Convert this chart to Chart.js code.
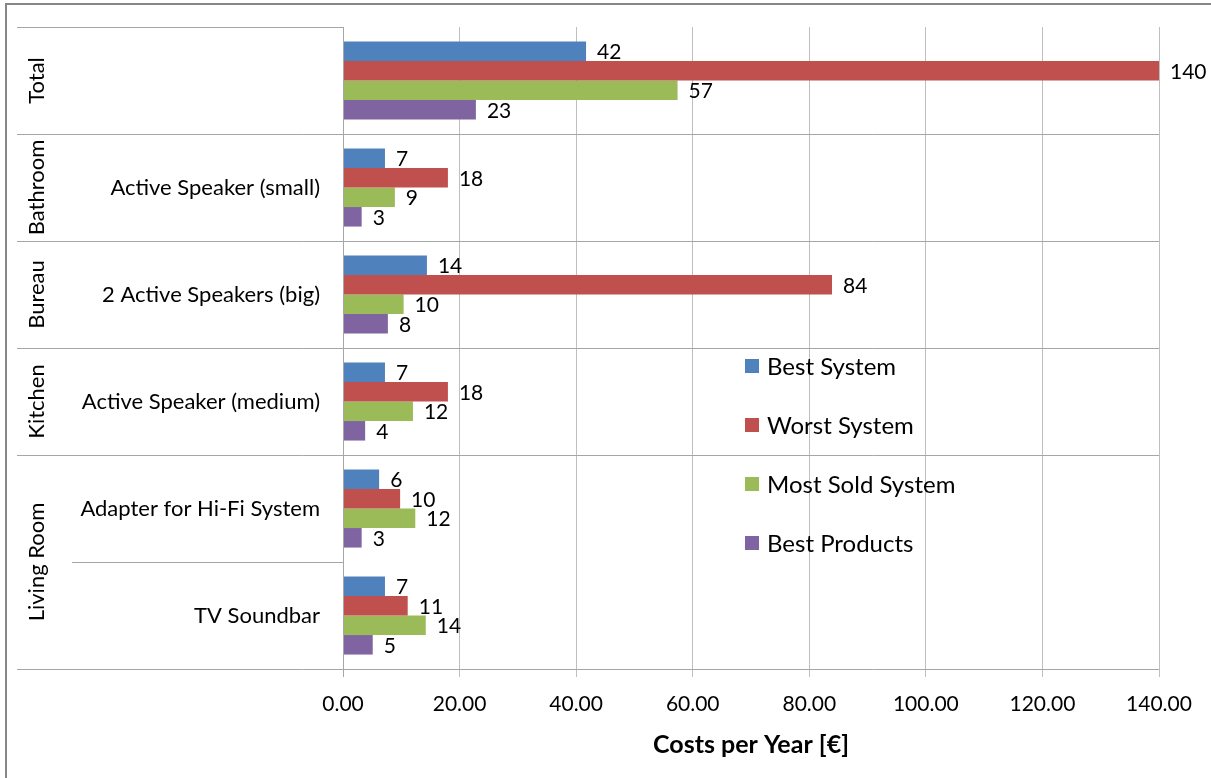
<!DOCTYPE html>
<html>
<head>
<meta charset="utf-8">
<script src="https://cdn.jsdelivr.net/npm/chart.js@4/dist/chart.umd.min.js"></script>
<style>
  html, body { margin: 0; padding: 0; background: #fff; }
  #wrap { width: 1211px; height: 778px; }
</style>
</head>
<body>
<div id="wrap"><canvas id="c" width="1211" height="778"></canvas></div>
<script>
// rooms (outer level) and products (inner level) of the category axis
const rooms = ['Total', 'Bathroom', 'Bureau', 'Kitchen', 'Living Room'];
const roomSpans = [1, 1, 1, 1, 2];
const products = ['', 'Active Speaker (small)', '2 Active Speakers (big)', 'Active Speaker (medium)', 'Adapter for Hi-Fi System', 'TV Soundbar'];

// yearly costs in euro
const bestSystem   = [41.7, 7.2, 14.4, 7.2, 6.2, 7.2];
const worstSystem  = [140, 18.0, 83.9, 18.0, 9.8, 11.1];
const mostSold     = [57.4, 8.9, 10.4, 12.0, 12.4, 14.2];
const bestProducts = [22.8, 3.2, 7.7, 3.8, 3.2, 5.1];

const seriesNames = ['Best System', 'Worst System', 'Most Sold System', 'Best Products'];
const xTicks = [0, 20, 40, 60, 80, 100, 120, 140];

const FONT = 'Lato, "Open Sans", sans-serif';

// multi-level labels on the left, value labels, legend, outer frame
const decorations = {
  id: 'decorations',
  afterDraw(chart) {
    const ctx = chart.ctx;
    const area = chart.chartArea;
    const y = chart.scales.y;
    const n = products.length;
    const rowH = (area.bottom - area.top) / n;
    const left = 17, innerLeft = 72;

    ctx.save();
    // category table lines
    ctx.strokeStyle = '#a6a6a6';
    ctx.lineWidth = 1;
    let idx = 0;
    const hline = (x0, yy, x1) => {
      ctx.beginPath();
      ctx.moveTo(x0, Math.round(yy) + 0.5);
      ctx.lineTo(x1, Math.round(yy) + 0.5);
      ctx.stroke();
    };
    hline(left, area.top, area.left);
    for (let r = 0; r < rooms.length; r++) {
      for (let k = 1; k < roomSpans[r]; k++) {
        hline(innerLeft, area.top + (idx + k) * rowH, area.left);
      }
      idx += roomSpans[r];
      hline(left, area.top + idx * rowH, area.right);
    }
    // value axis line
    ctx.beginPath();
    ctx.moveTo(Math.round(area.left) + 0.5, area.top);
    ctx.lineTo(Math.round(area.left) + 0.5, area.bottom + 8);
    ctx.stroke();

    // inner labels
    ctx.fillStyle = '#000';
    ctx.font = '22px ' + FONT;
    ctx.textAlign = 'right';
    ctx.textBaseline = 'middle';
    products.forEach((p, i) => {
      ctx.fillText(p, 320, y.getPixelForValue(i));
    });

    // outer labels, rotated
    idx = 0;
    rooms.forEach((r, i) => {
      const cy = area.top + (idx + roomSpans[i] / 2) * rowH;
      idx += roomSpans[i];
      ctx.save();
      ctx.translate(37, cy);
      ctx.rotate(-Math.PI / 2);
      ctx.textAlign = 'center';
      ctx.fillText(r, 0, 0);
      ctx.restore();
    });

    // value labels at bar ends
    ctx.font = '21px ' + FONT;
    ctx.textAlign = 'left';
    chart.data.datasets.forEach((ds, di) => {
      chart.getDatasetMeta(di).data.forEach((bar, i) => {
        ctx.fillText(String(Math.round(ds.data[i])), bar.x + 11, bar.y + 1);
      });
    });

    // legend
    const legX = 745, legY = 366, legStep = 59;
    ctx.font = '24px ' + FONT;
    chart.data.datasets.forEach((ds, di) => {
      const yy = legY + di * legStep;
      ctx.fillStyle = ds.backgroundColor;
      ctx.fillRect(legX, yy - 7, 14, 14);
      ctx.fillStyle = '#000';
      ctx.fillText(ds.label, legX + 22, yy + 1);
    });

    // chart frame
    ctx.strokeStyle = '#868686';
    ctx.lineWidth = 2;
    ctx.strokeRect(6, 4, 1220, 790);
    ctx.restore();
  }
};

const colors = ['#4f81bd', '#c0504d', '#9bbb59', '#8064a2'];
const seriesData = [bestSystem, worstSystem, mostSold, bestProducts];

new Chart(document.getElementById('c'), {
  type: 'bar',
  data: {
    labels: products,
    datasets: seriesNames.map((name, i) => ({
      label: name,
      data: seriesData[i],
      backgroundColor: colors[i],
      borderWidth: 0
    }))
  },
  options: {
    indexAxis: 'y',
    responsive: false,
    animation: false,
    datasets: { bar: { categoryPercentage: 0.73, barPercentage: 1.0 } },
    layout: { padding: { left: 17, top: 27, right: 52, bottom: 0 } },
    plugins: { legend: { display: false }, tooltip: { enabled: false } },
    scales: {
      x: {
        min: 0,
        max: 140,
        afterBuildTicks(scale) { scale.ticks = xTicks.map(v => ({ value: v })); },
        afterFit(scale) { scale.height = 109; },
        grid: { color: '#bfbfbf', tickLength: 8, tickColor: '#bfbfbf' },
        border: { display: false },
        ticks: {
          color: '#000',
          font: { family: FONT, size: 21 },
          padding: 15,
          callback: v => Number(v).toFixed(2)
        },
        title: {
          display: true,
          text: 'Costs per Year [€]',
          color: '#000',
          font: { family: FONT, size: 25, weight: 'bold' },
          padding: { top: 0, bottom: 18 }
        }
      },
      y: {
        afterFit(scale) { scale.width = 326; },
        grid: { display: false },
        border: { display: false },
        ticks: { display: false }
      }
    }
  },
  plugins: [decorations]
});
</script>
</body>
</html>
